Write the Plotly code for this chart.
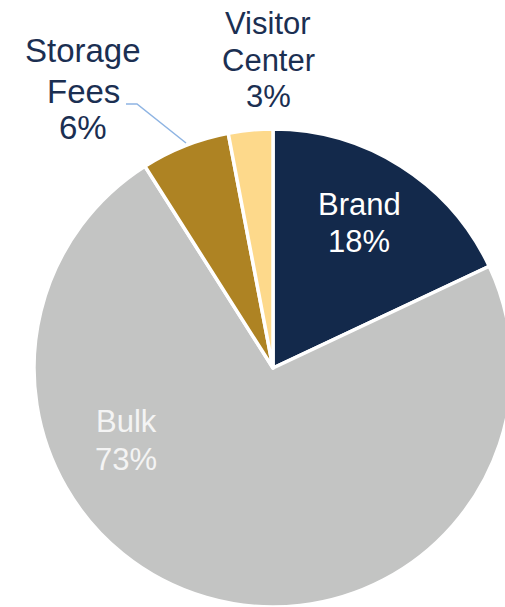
import plotly.graph_objects as go

categories = ["Brand", "Bulk", "Storage Fees", "Visitor Center"]
values = [18, 73, 6, 3]
colors = ["#13294B", "#C3C4C3", "#AE8323", "#FDD98B"]

W, H = 515, 607   # figure slightly wider than the window; pie is clipped at the right like the reference

fig = go.Figure(go.Pie(
    labels=categories,
    values=values,
    sort=False,
    direction="clockwise",
    rotation=0,
    marker=dict(colors=colors, line=dict(color="white", width=3.5)),
    textinfo="none",
    hoverinfo="label+percent",
    showlegend=False,
    domain=dict(x=[34 / W, 512 / W], y=[0.0, 478 / H]),
))

# label layout: center x, baselines of each line (px), colour, size
label_pos = {
    "Brand": (359, [216, 253], "white", 31),
    "Bulk": (126, [433, 471], "#F4F4F4", 31),
    "Storage Fees": (83, [63, 104, 140], "#1B2F52", 33),
    "Visitor Center": (268, [35, 72, 108], "#1B2F52", 31),
}
total = sum(values)
for cat, v in zip(categories, values):
    x, baselines, c, sz = label_pos[cat]
    lines = cat.split(" ") + [f"{round(100 * v / total)}%"]
    for line, b in zip(lines, baselines):
        yc = b - 0.38 * sz
        fig.add_annotation(
            x=x / W, y=1 - yc / H, xref="paper", yref="paper",
            text=line, showarrow=False, xanchor="center", yanchor="middle",
            font=dict(family="Liberation Sans, Arial, sans-serif", size=sz, color=c),
        )

# leader line for Storage Fees
fig.add_shape(
    type="path", xref="paper", yref="paper",
    path=f"M {126 / W} {1 - 104 / H} L {137 / W} {1 - 104 / H} L {186 / W} {1 - 143 / H}",
    line=dict(color="#8EB4E3", width=1.5),
)

fig.update_layout(
    width=W, height=H,
    margin=dict(l=0, r=0, t=0, b=0),
    paper_bgcolor="white",
    plot_bgcolor="white",
)

fig.write_html(
    "out.html",
    config={"displayModeBar": False},
    post_script="document.body.style.margin='0';document.body.style.overflow='hidden';",
)
